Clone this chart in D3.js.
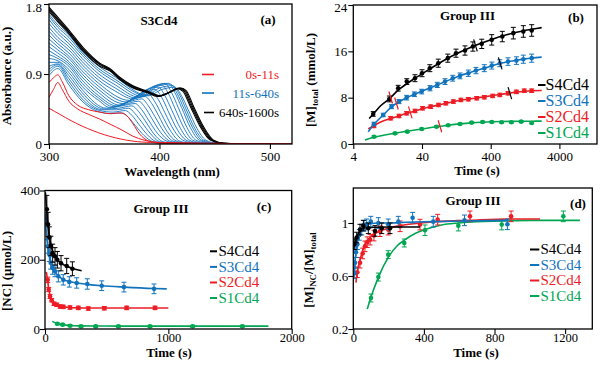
<!DOCTYPE html>
<html><head><meta charset="utf-8">
<script src="https://cdn.jsdelivr.net/npm/d3@7/dist/d3.min.js"></script>
<style>
html,body{margin:0;padding:0;background:#fff;}
svg{display:block;}
</style></head>
<body>
<svg id="chart" width="600" height="366" font-family="'Liberation Serif','Times New Roman',serif"></svg>
<script>
// ================= DATA =================
// Panel (a): spectra of S3Cd4 as [wavelength (nm), absorbance]
const aWavelengthTicks = [300, 400, 500];
const aAbsorbanceTicks = [0, 0.9, 1.8];
const aLegendLabels = ["0s-11s", "11s-640s", "640s-1600s"];
const aRedSpectra = [
  [[300,.46],[305,.42],[310,.38],[320,.30],[330,.23],[340,.17],[350,.12],[360,.08],[370,.05],[380,.03],[392,.02],[420,.01],[480,.005],[520,0]],
  [[300,.60],[304,.70],[308,.79],[312,.70],[318,.55],[326,.45],[336,.38],[346,.32],[356,.25],[366,.18],[376,.10],[386,.05],[400,.02],[480,.005],[520,0]],
  [[300,.79],[304,.85],[308,.89],[312,.80],[318,.62],[326,.50],[336,.44],[346,.41],[356,.39],[364,.40],[370,.37],[376,.26],[382,.13],[390,.04],[400,.01],[480,.005],[520,0]]
];
const aBlueSpectra = [
  [[300,.88],[308,.97],[318,.76],[330,.55],[344,.42],[356,.39],[366,.40],[372,.34],[378,.24],[386,.11],[394,.03],[404,.01],[500,0]],
  [[300,.92],[308,1.00],[318,.80],[330,.58],[346,.43],[358,.41],[369,.43],[375,.37],[381,.26],[389,.12],[397,.03],[407,.01],[500,0]],
  [[300,.96],[308,1.02],[318,.84],[330,.62],[348,.44],[361,.44],[372,.46],[378,.39],[384,.28],[392,.13],[400,.03],[410,.01],[500,0]],
  [[300,1.00],[308,1.03],[318,.88],[330,.66],[350,.45],[363,.46],[375,.49],[381,.42],[387,.30],[395,.13],[403,.03],[413,.01],[500,0]],
  [[300,1.05],[308,1.05],[318,.92],[330,.70],[352,.46],[366,.49],[378,.52],[384,.44],[390,.31],[398,.14],[406,.04],[416,.01],[500,0]],
  [[300,1.10],[308,1.07],[318,.96],[330,.74],[345,.56],[355,.47],[369,.51],[381,.55],[387,.47],[393,.33],[401,.15],[409,.04],[419,.01],[500,0]],
  [[300,1.15],[308,1.10],[318,1.00],[330,.78],[345,.59],[358,.48],[372,.54],[384,.58],[390,.49],[396,.35],[404,.16],[412,.04],[422,.01],[500,0]],
  [[300,1.20],[308,1.13],[318,1.03],[330,.82],[345,.62],[361,.49],[375,.57],[387,.61],[393,.52],[399,.37],[407,.16],[415,.04],[425,.01],[500,0]],
  [[300,1.25],[308,1.17],[318,1.06],[330,.86],[345,.66],[364,.50],[378,.60],[390,.64],[396,.54],[402,.38],[410,.17],[418,.04],[428,.01],[500,0]],
  [[300,1.30],[308,1.21],[318,1.10],[330,.90],[345,.70],[367,.52],[381,.63],[393,.67],[399,.57],[405,.40],[413,.18],[421,.05],[431,.01],[500,0]],
  [[300,1.35],[308,1.25],[318,1.13],[330,.94],[345,.74],[370,.54],[384,.66],[396,.70],[402,.60],[408,.42],[416,.19],[424,.05],[434,.01],[500,0]],
  [[300,1.40],[308,1.29],[318,1.17],[330,.98],[345,.78],[373,.56],[387,.69],[399,.73],[405,.62],[411,.44],[419,.20],[427,.05],[437,.01],[500,0]],
  [[300,1.45],[308,1.33],[318,1.21],[330,1.02],[345,.82],[360,.68],[376,.58],[390,.71],[402,.76],[408,.65],[414,.46],[422,.21],[430,.05],[440,.01],[500,0]],
  [[300,1.50],[308,1.37],[318,1.25],[330,1.06],[345,.86],[360,.72],[379,.59],[393,.73],[405,.78],[411,.66],[417,.47],[425,.21],[433,.05],[443,.01],[500,0]],
  [[300,1.55],[308,1.42],[318,1.29],[330,1.10],[345,.90],[360,.76],[382,.60],[396,.74],[408,.78],[414,.66],[420,.47],[428,.21],[436,.05],[446,.01],[500,0]],
  [[300,1.60],[308,1.46],[318,1.33],[330,1.14],[345,.94],[360,.80],[385,.61],[398,.74],[410,.77],[416,.65],[422,.46],[430,.21],[438,.05],[448,.01],[500,0]],
  [[300,1.64],[308,1.50],[318,1.37],[330,1.17],[345,.97],[360,.83],[388,.62],[400,.72],[412,.75],[418,.64],[424,.45],[432,.20],[440,.05],[450,.01],[500,0]],
  [[300,1.67],[308,1.53],[318,1.40],[330,1.19],[345,1.00],[360,.86],[390,.62],[402,.70],[414,.73],[420,.62],[426,.44],[434,.20],[442,.05],[452,.01],[500,0]]
];
const aBlackSpectra = [
  [[300,1.70],[308,1.57],[316,1.45],[331,1.19],[346,1.00],[355,.94],[364,.83],[376,.72],[389,.66],[398,.61],[408,.66],[416,.71],[421,.68],[428,.48],[437,.22],[446,.05],[456,.01],[500,0]],
  [[300,1.72],[308,1.59],[316,1.47],[331,1.21],[346,1.02],[355,.95],[364,.84],[376,.73],[389,.665],[399,.615],[409,.665],[417,.715],[422,.685],[429,.48],[438,.22],[447,.05],[457,.01],[500,0]],
  [[300,1.74],[308,1.61],[316,1.48],[331,1.22],[346,1.03],[355,.96],[364,.85],[376,.74],[389,.67],[400,.62],[410,.67],[418,.72],[423,.69],[430,.48],[439,.22],[448,.05],[458,.01],[500,0]],
  [[300,1.76],[308,1.63],[316,1.50],[331,1.24],[346,1.04],[355,.97],[364,.86],[376,.75],[389,.68],[401,.62],[411,.675],[419,.72],[424,.69],[431,.48],[440,.22],[449,.05],[459,.01],[500,0]]
];

// Shared series names (panels b-d)
const seriesNames = ["S4Cd4", "S3Cd4", "S2Cd4", "S1Cd4"];

// Panel (b): [M]total (mmol/L) vs time (s, log axis)
const bTimeTicks = [4, 40, 400, 4000];
const bValueTicks = [0, 8, 16, 24];
const b_S4_t = [7.8,13.4,18,24,31.6,40,52,69,95,125,169,220,296,414,590,853,1194,1580];
const b_S4_v = [5.19,7.78,9.63,10.77,11.36,12.22,13.09,13.95,14.82,15.68,16.14,16.83,17.29,17.98,18.55,19.14,19.43,19.6];
const b_S4_e = [0.4,0.5,0.5,0.5,0.6,0.6,0.6,0.7,0.7,0.7,0.8,0.8,0.8,0.9,0.9,1.0,1.0,1.0];
const b_S4_fit = [[6.8,4.4],[8,5.3],[10,6.6],[13.4,7.8],[18,9.3],[24,10.4],[32,11.4],[40,12.1],[52,12.95],[69,13.85],[95,14.8],[125,15.55],[169,16.25],[220,16.85],[296,17.45],[414,18.05],[590,18.65],[853,19.15],[1194,19.55],[1580,19.8],[2210,20.1]];
const b_S4_breaks = [14, 240];
const b_S3_t = [8,10.9,14.4,18.5,23.9,31,39.6,52.3,66.8,86.5,112,143,189,244,323,415,543,714,947,1194,1580];
const b_S3_v = [3.46,5.01,6.45,7.32,8.0,8.59,9.05,9.63,10.2,10.77,11.36,11.76,12.22,12.68,13.09,13.54,13.95,14.23,14.4,14.64,14.82];
const b_S3_e = [0.3,0.3,0.35,0.35,0.4,0.4,0.4,0.45,0.45,0.5,0.5,0.5,0.55,0.55,0.6,0.6,0.6,0.65,0.65,0.7,0.7];
const b_S3_fit = [[6.6,2.1],[8,3.4],[10.9,5.0],[14.4,6.4],[18.5,7.3],[24,8.0],[31,8.6],[40,9.1],[52,9.65],[67,10.2],[86,10.75],[112,11.3],[143,11.8],[189,12.25],[244,12.7],[323,13.1],[415,13.5],[543,13.9],[714,14.2],[947,14.45],[1194,14.65],[1580,14.85],[2210,15.0]];
const b_S3_breaks = [17, 550];
const b_S2_t = [8,14,18.5,23.9,31.6,40.8,53.5,69.6,88.9,114.6,147,189,250,323,427,543,714,947,1232,1580];
const b_S2_v = [3.11,4.44,4.84,5.3,5.71,6.17,6.45,6.74,7.03,7.32,7.61,7.72,7.9,8.07,8.3,8.47,8.76,9.0,9.2,9.2];
const b_S2_e = [0.3,0.3,0.3,0.3,0.3,0.3,0.3,0.3,0.3,0.3,0.3,0.3,0.3,0.3,0.3,0.3,0.3,0.3,0.3,0.3];
const b_S2_fit = [[6.6,2.6],[8,3.2],[10,3.8],[14,4.4],[18.5,4.85],[24,5.3],[31.6,5.7],[40.8,6.1],[53.5,6.45],[69.6,6.75],[89,7.0],[115,7.3],[147,7.55],[189,7.75],[250,7.95],[323,8.15],[427,8.35],[543,8.55],[714,8.75],[947,8.95],[1232,9.1],[1580,9.2],[2210,9.25]];
const b_S2_breaks = [27, 760];
const b_S1_t = [8,16.2,24.4,39.6,65,96,143,211,305,415,577,800,1110,1580];
const b_S1_v = [1.26,1.84,2.13,2.59,2.99,3.23,3.46,3.69,3.80,3.80,3.75,3.75,3.86,3.63];
const b_S1_e = [0.15,0.15,0.15,0.15,0.15,0.15,0.15,0.15,0.15,0.15,0.15,0.15,0.15,0.15];
const b_S1_fit = [[5.9,0.7],[8,1.15],[11,1.5],[16,1.85],[24,2.2],[40,2.6],[65,2.98],[96,3.25],[143,3.48],[211,3.65],[305,3.76],[415,3.83],[577,3.88],[800,3.91],[1110,3.93],[1580,3.94],[2210,3.95]];
const b_S1_breaks = [73];

// Panel (c): [NC] (umol/L) vs time (s)
const cTimeTicks = [0, 1000, 2000];
const cValueTicks = [0, 200, 400];
const c_S4_t = [15,25,35,48,62,81,100,130,176,222];
const c_S4_v = [346,302,265,240,219,210,200,190,182,174];
const c_S4_e = [40,35,30,28,26,25,24,22,22,20];
const c_S4_fit = [[3,395],[8,370],[15,340],[25,298],[35,268],[48,243],[62,225],[81,210],[100,200],[130,190],[176,181],[222,175],[297,168]];
const c_S3_t = [5.5,22,35,46,62,81,108,148,197,257,343,460,640,884];
const c_S3_v = [316,239,215,191,176,167,152,142,136,133,130,125,121,116];
const c_S3_e = [20,20,20,18,18,16,16,15,15,15,15,14,14,14];
const c_S3_fit = [[3,330],[5.5,312],[10,280],[22,240],[35,213],[46,195],[62,178],[81,165],[108,153],[148,143],[197,137],[257,133],[343,129],[460,125],[640,121],[884,117],[987,116]];
const c_S2_t = [22,30,41,54,73,95,122,148,203,270,351,481,662,892];
const c_S2_v = [142,114,94,83,73,70,65,64,62,61,59,60,61,61];
const c_S2_e = [8,6,6,5,5,5,5,5,5,5,5,5,5,5];
const c_S2_fit = [[10,165],[14,158],[22,138],[30,116],[41,97],[54,84],[73,75],[95,70],[122,66],[148,64],[203,62],[270,61],[351,60.5],[481,60.5],[662,60.5],[892,60.5],[1000,60.5]];
const c_S1_t = [100,143,203,292,411,595,851,1197,1600];
const c_S1_v = [15,12.5,9.6,7.7,7.7,7.7,7.7,7.7,7.7];
const c_S1_e = [3,3,3,3,3,3,3,3,3];
const c_S1_fit = [[59,22],[100,15],[143,12],[203,10],[292,9],[411,8.6],[595,8.4],[851,8.3],[1197,8.3],[1600,8.3],[1811,8.3]];

// Panel (d): [M]NC/[M]total vs time (s)
const dTimeTicks = [0, 400, 800, 1200];
const dValueTicks = [0.2, 0.6, 1];
const d_S4_t = [6,19,38,57,85,123,161,208];
const d_S4_v = [0.84,0.89,0.95,0.98,0.96,0.94,0.96,0.96];
const d_S4_e = [0.04,0.04,0.04,0.04,0.04,0.04,0.04,0.04];
const d_S4_fit = [[6,0.82],[19,0.89],[38,0.94],[57,0.96],[85,0.965],[123,0.968],[200,0.97],[378,0.97]];
const d_S3_t = [6,10,15,23,34,48,61,76,99,142,198,255,336,453,630,873];
const d_S3_v = [0.62,0.70,0.78,0.84,0.91,0.95,0.98,0.99,1.01,1.0,0.99,1.01,1.04,1.01,1.02,0.99];
const d_S3_e = [0.04,0.04,0.04,0.04,0.04,0.04,0.04,0.04,0.04,0.04,0.04,0.04,0.04,0.04,0.04,0.04];
const d_S3_fit = [[6,0.6],[10,0.70],[15,0.78],[23,0.85],[34,0.91],[48,0.95],[61,0.97],[76,0.985],[99,0.995],[142,1.0],[200,1.0],[300,1.005],[450,1.01],[630,1.015],[875,1.02]];
const d_S2_t = [23,38,53,66,79,95,117,151,198,265,378,478,661,894];
const d_S2_v = [0.628,0.70,0.77,0.824,0.855,0.874,0.905,0.938,0.95,0.975,0.988,1.025,1.05,1.05];
const d_S2_e = [0.04,0.04,0.04,0.04,0.04,0.04,0.04,0.04,0.04,0.04,0.04,0.04,0.04,0.04];
const d_S2_fit = [[15,0.55],[23,0.63],[38,0.72],[53,0.79],[66,0.835],[79,0.865],[95,0.89],[117,0.915],[151,0.94],[198,0.96],[265,0.98],[378,1.0],[478,1.01],[661,1.02],[894,1.03],[1058,1.03]];
const d_S1_t = [100,142,198,289,406,595,841,1190];
const d_S1_v = [0.434,0.592,0.761,0.849,0.945,0.98,0.988,1.05];
const d_S1_e = [0.03,0.03,0.03,0.03,0.04,0.04,0.04,0.04];
const d_S1_fit = [[79,0.35],[100,0.44],[142,0.59],[198,0.74],[250,0.83],[289,0.87],[350,0.92],[406,0.95],[500,0.985],[595,1.0],[700,1.01],[841,1.015],[1000,1.02],[1190,1.02],[1284,1.02]];

// ================= DRAWING =================
const COL = {black:"#000000", blue:"#1273bd", red:"#ed1c24", green:"#00a651"};
const seriesColors = [COL.black, COL.blue, COL.red, COL.green];
const svg = d3.select("#chart");
const FONT = "'Liberation Serif','Times New Roman',serif";

function frame(x0, x1, y0, y1) {
  svg.append("rect").attr("x", x0).attr("y", y0).attr("width", x1 - x0).attr("height", y1 - y0)
    .attr("fill", "none").attr("stroke", "#000").attr("stroke-width", 1.3);
}
function axes(x, y, xt, yt, xf, yf, xpad, ypad, xsize) {
  const [yb] = y.range();
  const [xl] = x.range();
  const gx = svg.append("g").attr("transform", `translate(0,${yb})`)
    .call(d3.axisBottom(x).tickValues(xt).tickSize(5).tickSizeOuter(0).tickPadding(xpad).tickFormat(xf));
  gx.select(".domain").remove();
  gx.attr("font-size", xsize || 13).attr("font-family", FONT);
  gx.selectAll("line").attr("stroke-width", 1.1);
  const gy = svg.append("g").attr("transform", `translate(${xl},0)`)
    .call(d3.axisLeft(y).tickValues(yt).tickSize(5).tickSizeOuter(0).tickPadding(ypad).tickFormat(yf));
  gy.select(".domain").remove();
  gy.attr("font-size", 13).attr("font-family", FONT);
  gy.selectAll("line").attr("stroke-width", 1.1);
  return {gx, gy};
}
function text(x, y, s, opts = {}) {
  const t = svg.append("text").attr("x", x).attr("y", y).text(s)
    .attr("font-size", opts.size || 13).attr("font-weight", opts.bold ? "bold" : "normal")
    .attr("text-anchor", opts.anchor || "middle").attr("fill", opts.color || "#000");
  return t;
}
function vlabel(x, y, parts, size) {
  const t = svg.append("text").attr("transform", `translate(${x},${y}) rotate(-90)`)
    .attr("text-anchor", "middle").attr("font-weight", "bold").attr("font-size", size);
  let shift = 0;
  parts.forEach(p => {
    const ts = t.append("tspan").text(p.s);
    if (p.sub) { ts.attr("font-size", size * 0.68).attr("dy", 3 - shift); shift = 3; }
    else { ts.attr("dy", -shift); shift = 0; }
  });
}
function clip(id, x0, x1, y0, y1) {
  svg.append("clipPath").attr("id", id).append("rect")
    .attr("x", x0).attr("y", y0).attr("width", x1 - x0).attr("height", y1 - y0);
}

// ---------- Panel (a) ----------
{
  const x = d3.scaleLinear([300, 520], [49, 292]);
  const y = d3.scaleLinear([0, 1.8], [144, 4]);
  clip("clipA", 49, 292, 4, 144);
  const line = d3.line().x(d => x(d[0])).y(d => y(d[1])).curve(d3.curveMonotoneX);
  const g = svg.append("g").attr("clip-path", "url(#clipA)").attr("fill", "none");
  g.selectAll(".blue").data(aBlueSpectra).join("path").attr("d", line).attr("stroke", COL.blue).attr("stroke-width", 0.9);
  g.selectAll(".blk").data(aBlackSpectra).join("path").attr("d", line).attr("stroke", COL.black).attr("stroke-width", 1.1);
  g.selectAll(".red").data(aRedSpectra).join("path").attr("d", line).attr("stroke", COL.red).attr("stroke-width", 1);
  frame(49, 292, 4, 144);
  const {gy} = axes(x, y, aWavelengthTicks, aAbsorbanceTicks, d3.format("d"), d => d === 0 ? "0" : d3.format(".1f")(d), 3, 2);
  gy.selectAll(".tick text").filter(d => d === 1.8).attr("dy", "0.55em");
  text(159, 24.5, "S3Cd4", {bold: true});
  text(268, 23.5, "(a)", {bold: true});
  text(172, 175.5, "Wavelength (nm)", {bold: true});
  vlabel(10.5, 76, [{s: "Absorbance (a.u.)"}], 13);
  const legCols = [COL.red, COL.blue, COL.black];
  const legY = [74.5, 93, 112.5];
  aLegendLabels.forEach((lab, i) => {
    svg.append("line").attr("x1", i === 2 ? 204 : 202).attr("x2", 214).attr("y1", legY[i]).attr("y2", legY[i])
      .attr("stroke", legCols[i]).attr("stroke-width", 1.6);
    text(279, legY[i] + 4.5, lab, {anchor: "end", color: legCols[i]});
  });
}

// ---------- generic XY panel with error bars ----------
function xyPanel(cfg) {
  const {x, y, id, series} = cfg;
  const [x0, x1] = x.range(); const [y1, y0] = y.range();
  clip(id, x0, x1, y0, y1);
  const line = d3.line().x(d => x(d[0])).y(d => y(d[1])).curve(d3.curveMonotoneX);
  const g = svg.append("g").attr("clip-path", `url(#${id})`);
  series.slice().reverse().forEach(s => {
    g.append("path").datum(s.fit).attr("d", line).attr("fill", "none").attr("stroke", s.color).attr("stroke-width", 1.6);
    const pts = s.t.map((t, i) => ({t, v: s.v[i], e: s.e[i]}));
    const eg = g.append("g").attr("stroke", s.color).attr("stroke-width", 1);
    pts.forEach(p => {
      const px = x(p.t), pt = y(p.v + p.e), pb = y(p.v - p.e);
      eg.append("line").attr("x1", px).attr("x2", px).attr("y1", pt).attr("y2", pb);
      eg.append("line").attr("x1", px - 2.5).attr("x2", px + 2.5).attr("y1", pt).attr("y2", pt);
      eg.append("line").attr("x1", px - 2.5).attr("x2", px + 2.5).attr("y1", pb).attr("y2", pb);
    });
    g.append("g").selectAll("circle").data(pts).join("circle")
      .attr("cx", p => x(p.t)).attr("cy", p => y(p.v)).attr("r", 2.3).attr("fill", s.color);
    if (s.breaks) {
      s.breaks.forEach((bt, k) => {
        const f = s.fit; let j = 1; while (j < f.length - 1 && f[j][0] < bt) j++;
        const a = f[j - 1], b = f[j];
        const u = (Math.log(bt) - Math.log(a[0])) / (Math.log(b[0]) - Math.log(a[0]));
        const v = a[1] + u * (b[1] - a[1]);
        const cx = x(bt), cy = y(v);
        g.append("line").attr("x1", cx - 1.8).attr("x2", cx + 1.8).attr("y1", cy - 6).attr("y2", cy + 6)
          .attr("stroke", k === 0 ? COL.red : COL.black).attr("stroke-width", 1.2);
      });
    }
  });
  frame(x0, x1, y0, y1);
}
function legend(xl1, xl2, xt, ys, size) {
  seriesNames.forEach((n, i) => {
    svg.append("line").attr("x1", xl1).attr("x2", xl2).attr("y1", ys[i]).attr("y2", ys[i])
      .attr("stroke", seriesColors[i]).attr("stroke-width", 2);
    text(xt, ys[i] + size * 0.33, n, {anchor: "start", color: seriesColors[i], size});
  });
}

// ---------- Panel (b) ----------
{
  const x = d3.scaleLog([4, 14100], [353.3, 597]);
  const y = d3.scaleLinear([0, 24], [144, 5]);
  xyPanel({x, y, id: "clipB", series: [
    {t: b_S4_t, v: b_S4_v, e: b_S4_e, fit: b_S4_fit, breaks: b_S4_breaks, color: COL.black},
    {t: b_S3_t, v: b_S3_v, e: b_S3_e, fit: b_S3_fit, breaks: b_S3_breaks, color: COL.blue},
    {t: b_S2_t, v: b_S2_v, e: b_S2_e, fit: b_S2_fit, breaks: b_S2_breaks, color: COL.red},
    {t: b_S1_t, v: b_S1_v, e: b_S1_e, fit: b_S1_fit, breaks: b_S1_breaks, color: COL.green}
  ]});
  const {gy} = axes(x, y, bTimeTicks, bValueTicks, d3.format("d"), d3.format("d"), 3, 1);
  gy.selectAll(".tick text").filter(d => d === 24).attr("dy", "0.5em");
  text(467.5, 19.5, "Group III", {bold: true});
  text(576, 21.5, "(b)", {bold: true});
  text(477, 175, "Time (s)", {bold: true});
  vlabel(315, 80, [{s: "[M]"}, {s: "total", sub: true}, {s: " (mmol/L)"}], 13);
  legend(538, 545.5, 545.5, [85, 101, 117, 133], 16);
}

// ---------- Panel (c) ----------
{
  const x = d3.scaleLinear([0, 2000], [45, 291.7]);
  const y = d3.scaleLinear([0, 400], [329, 190.5]);
  xyPanel({x, y, id: "clipC", series: [
    {t: c_S4_t, v: c_S4_v, e: c_S4_e, fit: c_S4_fit, color: COL.black},
    {t: c_S3_t, v: c_S3_v, e: c_S3_e, fit: c_S3_fit, color: COL.blue},
    {t: c_S2_t, v: c_S2_v, e: c_S2_e, fit: c_S2_fit, color: COL.red},
    {t: c_S1_t, v: c_S1_v, e: c_S1_e, fit: c_S1_fit, color: COL.green}
  ]});
  axes(x, y, cTimeTicks, cValueTicks, d3.format("d"), d3.format("d"), -1, 0, 12.5);
  text(161, 212.5, "Group III", {bold: true});
  text(264, 210.8, "(c)", {bold: true});
  text(169, 357, "Time (s)", {bold: true});
  vlabel(11, 271, [{s: "[NC] (μmol/L)"}], 13);
  legend(210, 217, 218.5, [251.3, 266.9, 282.5, 298], 15);
}

// ---------- Panel (d) ----------
{
  const x = d3.scaleLinear([0, 1354], [353.3, 592.3]);
  const y = d3.scaleLinear([0.2, 1.264], [329, 188]);
  xyPanel({x, y, id: "clipD", series: [
    {t: d_S4_t, v: d_S4_v, e: d_S4_e, fit: d_S4_fit, color: COL.black},
    {t: d_S3_t, v: d_S3_v, e: d_S3_e, fit: d_S3_fit, color: COL.blue},
    {t: d_S2_t, v: d_S2_v, e: d_S2_e, fit: d_S2_fit, color: COL.red},
    {t: d_S1_t, v: d_S1_v, e: d_S1_e, fit: d_S1_fit, color: COL.green}
  ]});
  axes(x, y, dTimeTicks, dValueTicks, d3.format("d"), d => d === 1 ? "1" : d3.format(".1f")(d), -1, 0, 12.5);
  text(473, 204.8, "Group III", {bold: true});
  text(578, 207.5, "(d)", {bold: true});
  text(476, 357, "Time (s)", {bold: true});
  vlabel(313, 270, [{s: "[M]"}, {s: "NC", sub: true}, {s: "/[M]"}, {s: "total", sub: true}], 13);
  legend(530, 539.3, 540.5, [249.5, 265, 280.5, 296], 15);
}
</script>
</body></html>
